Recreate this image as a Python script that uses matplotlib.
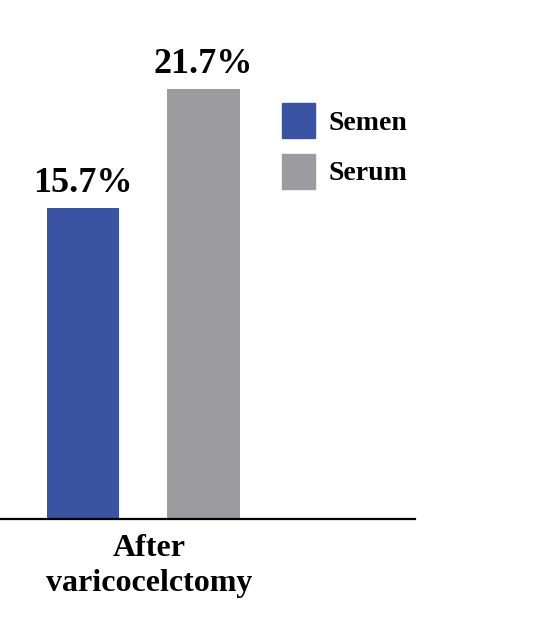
import matplotlib.pyplot as plt
from matplotlib.patches import Patch

# values
groups = ['After\nvaricocelctomy']
series = ['Semen', 'Serum']
values = [15.7, 21.7]
colors = ['#3a54a3', '#9c9ba0']

plt.rcParams['font.family'] = ['Liberation Serif', 'DejaVu Serif']
plt.rcParams['font.weight'] = 'bold'

fig = plt.figure(figsize=(5.33, 6.29), dpi=100)
ax = fig.add_axes([0.0, 1 - 519 / 629, 415 / 533, 519 / 629])

xpos = [0, 1]
w = 0.605
bars = ax.bar(xpos, values, width=w, color=colors)

for b, v in zip(bars, values):
    ax.annotate(f'{v}%', (b.get_x() + b.get_width() / 2, v),
                xytext=(0, 6), textcoords='offset points',
                ha='center', va='bottom', fontsize=26, fontweight='bold')

ax.set_xlim(-0.689, 2.757)
ax.set_ylim(0, 26.19)

for s in ['top', 'right', 'left']:
    ax.spines[s].set_visible(False)
ax.spines['bottom'].set_linewidth(1.6)
ax.set_yticks([])
ax.set_xticks([])

ax.text(0.55, -0.75, groups[0], ha='center', va='top', fontsize=23,
        fontweight='bold', linespacing=1.28, transform=ax.transData)

handles = [Patch(color=c, label=s) for c, s in zip(colors, series)]
fig.legend(handles=handles, loc='upper left', bbox_to_anchor=(282 / 533, 1 - 103 / 629),
           frameon=False, borderpad=0, borderaxespad=0,
           handlelength=1.19, handleheight=1.55, labelspacing=0.58, handletextpad=0.5,
           prop={'weight': 'bold', 'size': 20})

fig.savefig('out.png', dpi=100, facecolor='white')
